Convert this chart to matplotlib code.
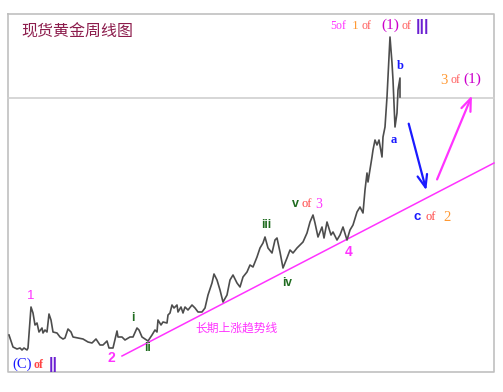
import matplotlib
matplotlib.use("Agg")
import matplotlib.pyplot as plt

# ---- data (x = week position, y = level, screen-down) ----
weeks = [9, 13, 17, 20, 22, 24, 27, 28, 31, 33, 35, 37, 39, 42, 43, 45, 47, 49, 51, 53,
         57, 60, 63, 65, 68, 71, 73, 78, 83, 88, 92, 96, 100, 103, 107, 109, 113, 117, 118, 122,
         125, 130, 133, 137, 139, 142, 145, 148, 152, 155, 157, 158, 161, 163, 167, 168, 170, 172, 174, 177,
         178, 181, 183, 185, 188, 192, 195, 198, 202, 205, 208, 212, 214, 217, 220, 223, 227, 230, 233, 237,
         240, 243, 247, 250, 253, 257, 260, 263, 265, 268, 272, 275, 277, 280, 283, 287, 290, 293, 297, 300,
         303, 307, 310, 313, 315, 318, 322, 324, 327, 331, 333, 337, 340, 343, 347, 350, 353, 357, 360, 363,
         365, 367, 368, 372, 373, 375, 377, 379, 382, 383, 385, 387, 390, 392, 393, 395, 397, 398, 400, 400]
levels = [335, 347, 349, 348, 350, 348, 350, 348, 307, 313, 325, 323, 332, 328, 333, 330, 332, 314, 320, 332,
          333, 337, 339, 338, 329, 332, 337, 338, 339, 342, 343, 339, 345, 345, 341, 348, 348, 331, 337, 337,
          340, 337, 337, 328, 330, 337, 339, 341, 335, 330, 332, 320, 325, 322, 323, 315, 313, 305, 308, 305,
          312, 307, 313, 307, 310, 305, 308, 312, 312, 308, 295, 283, 274, 280, 290, 302, 295, 280, 275, 283,
          287, 277, 272, 265, 267, 257, 248, 243, 237, 248, 253, 240, 238, 252, 268, 258, 250, 253, 248, 245,
          242, 233, 222, 215, 223, 237, 227, 238, 222, 235, 232, 240, 235, 227, 240, 230, 225, 212, 207, 213,
          190, 173, 182, 157, 150, 140, 145, 140, 157, 137, 127, 97, 37, 63, 80, 127, 113, 90, 78, 97]

trend_x = [122, 494]
trend_y = [356, 163]

ref_level = 98

down_arrow = [(408, 121), (427, 193)]
up_arrow = [(436, 182), (473, 93)]

MAG = "#ff33ff"
BLUE = "#1a1aff"
GREEN = "#1f6b1f"
RED = "#ff4444"
ORANGE = "#ff9933"
PURPLE = "#6a1fd1"

fig = plt.figure(figsize=(5.03, 3.92), dpi=100)
ax = fig.add_axes([0, 0, 1, 1])
ax.set_xlim(0, 503)
ax.set_ylim(392, 0)
ax.axis("off")

# frame
ax.plot([8, 494, 494, 8, 8], [14, 14, 372, 372, 14], color="#c0c0c0", lw=1.2)
# reference line
ax.plot([8, 494], [ref_level, ref_level], color="#d0d0d0", lw=1.2)

# trend line
ax.plot(trend_x, trend_y, color=MAG, lw=1.1)
# price
ax.plot(weeks, levels, color="#4d4d4d", lw=1.2)

# arrows
ax.annotate("", xy=down_arrow[1], xytext=down_arrow[0],
            arrowprops=dict(arrowstyle="->,head_length=0.9,head_width=0.35", color=BLUE, lw=1.6))
ax.annotate("", xy=up_arrow[1], xytext=up_arrow[0],
            arrowprops=dict(arrowstyle="->,head_length=0.9,head_width=0.35", color=MAG, lw=1.6))

SERIF = ["Liberation Serif", "DejaVu Serif"]
SANS = ["Liberation Sans", "DejaVu Sans"]
CJK = ["Noto Sans CJK SC", "DejaVu Sans"]

def t(x, y, s, c, size=9, fam=SERIF, weight="normal", ha="left"):
    ax.text(x, y, s, color=c, fontsize=size, family=fam, weight=weight, ha=ha, va="center")

# title
t(21, 32, "现货黄金周线图", "#8c1c4c", size=11.5, fam=CJK)

# top label
t(330, 26, "5of", MAG, 8.5)
t(352, 26, "1", ORANGE, 9.5)
t(362, 26, "of", "#ff5a5a", 8.5)
t(381, 25, "(1)", "#cc00cc", 11)
t(402, 26, "of", "#ff5a5a", 8.5)
t(416, 26, "|||", PURPLE, 11.5, fam=SANS, weight="bold")

t(397, 66, "b", BLUE, 9, weight="bold")
t(391, 140, "a", BLUE, 9, weight="bold")

t(440, 80, "3", ORANGE, 10.5)
t(451, 80, "of", "#ff5a5a", 8.5)
t(463, 79, "(1)", "#cc00cc", 11)

t(27, 296, "1", MAG, 9.5, fam=SANS)
t(12, 364, "(C)", BLUE, 10.5)
t(34, 365, "of", RED, 8.5, weight="bold")
t(49, 364, "||", PURPLE, 11.5, fam=SANS, weight="bold")

t(108, 358, "2", MAG, 10, fam=SANS, weight="bold")
t(131, 318, "i", GREEN, 8.5, fam=SANS, weight="bold")
t(144, 348, "ii", GREEN, 8.5, fam=SANS, weight="bold")
t(195, 328, "长期上涨趋势线", MAG, 8.5, fam=CJK)

t(261, 225, "iii", GREEN, 8.5, fam=SANS, weight="bold")
t(282, 283, "iv", GREEN, 8.5, fam=SANS, weight="bold")
t(292, 204, "v", GREEN, 9, fam=SANS, weight="bold")
t(302, 204, "of", RED, 9)
t(315, 204, "3", MAG, 10)
t(345, 252, "4", MAG, 10, fam=SANS, weight="bold")

t(414, 217, "c", BLUE, 9.5, fam=SANS, weight="bold")
t(426, 217, "of", RED, 9)
t(443, 217, "2", ORANGE, 10.5)

fig.savefig("out.png", dpi=100, facecolor="white")
